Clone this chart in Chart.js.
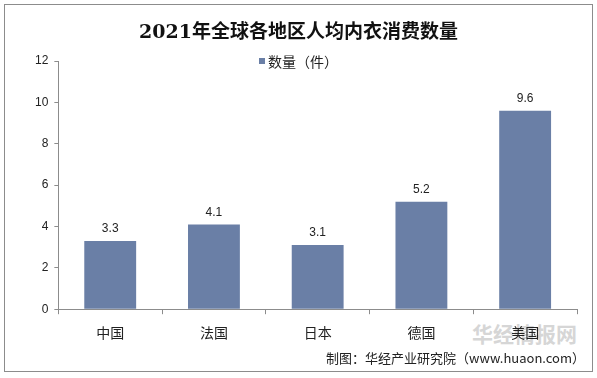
<!DOCTYPE html>
<html>
<head>
<meta charset="utf-8">
<script src="https://cdn.jsdelivr.net/npm/chart.js@4/dist/chart.umd.min.js"></script>
<style>
  body { margin: 0; background: #fff; }
  #wrap { position: relative; width: 597px; height: 378px; }
  #chart { position: absolute; left: 0; top: 0; }
  #frame { position: absolute; left: 4px; top: 4px; width: 587px; height: 366px; border: 1px solid #8c8c8c; pointer-events: none; }
  #title { position: absolute; left: 0; top: 16px; width: 597px; text-align: center;
    font: bold 19px "DejaVu Serif", "Noto Sans CJK SC", serif; color: #111; }
  #legend { position: absolute; left: 0; top: 51px; width: 597px; text-align: center;
    font: 14px "Noto Sans CJK SC", sans-serif; color: #222; }
  #legend i { display: inline-block; width: 6px; height: 6px; margin-right: 3px; vertical-align: 3px; }
  #mark { position: absolute; left: 472px; top: 318px; white-space: nowrap; font: bold 21px "Noto Sans CJK SC", sans-serif; color: #d6d6d6; }
  #source { position: absolute; right: 12px; top: 348px; white-space: nowrap; font: 13px "Noto Sans CJK SC", "Liberation Sans", sans-serif; color: #222; }
</style>
</head>
<body>
<div id="wrap">
  <div id="mark">华经情报网</div>
  <canvas id="chart" width="597" height="378"></canvas>
  <div id="title">2021年全球各地区人均内衣消费数量</div>
  <div id="legend"></div>
  <div id="source">制图：华经产业研究院（www.huaon.com）</div>
  <div id="frame"></div>
</div>
<script>
//categories and values
const regions = ["中国", "法国", "日本", "德国", "美国"];
const amounts = [3.3, 4.1, 3.1, 5.2, 9.6];
const seriesName = "数量（件）";
const barColor = "#6a7fa6";

//draw the value above each bar
const valueLabels = {
  id: "valueLabels",
  afterDatasetsDraw(chart) {
    const ctx = chart.ctx;
    const meta = chart.getDatasetMeta(0);
    ctx.save();
    ctx.font = "12px 'Liberation Sans', Arial, sans-serif";
    ctx.fillStyle = "#222";
    ctx.textAlign = "center";
    ctx.textBaseline = "middle";
    meta.data.forEach((bar, i) => {
      ctx.fillText(amounts[i].toFixed(1), bar.x, bar.y - 12);
    });
    ctx.restore();
  },
};

const myChart = new Chart(document.getElementById("chart"), {
  type: "bar",
  plugins: [valueLabels],
  data: {
    labels: regions,
    datasets: [
      {
        label: seriesName,
        data: amounts,
        backgroundColor: barColor,
        barPercentage: 0.5,
        categoryPercentage: 1,
      },
    ],
  },
  options: {
    responsive: false,
    animation: false,
    layout: { padding: { top: 61, left: 29, right: 20, bottom: 27 } },
    plugins: {
      tooltip: { enabled: false },
      legend: { display: false },
    },
    scales: {
      x: {
        grid: { drawOnChartArea: false, tickLength: 5, color: "#8c8c8c" },
        border: { color: "#8c8c8c" },
        ticks: { padding: 10, color: "#222", font: { size: 14, family: "'Noto Sans CJK SC', sans-serif" } },
      },
      y: {
        min: 0,
        max: 12,
        grid: { drawOnChartArea: false, tickLength: 4, color: "#8c8c8c" },
        border: { color: "#8c8c8c" },
        ticks: { stepSize: 2, padding: 6, color: "#222", font: { size: 12, family: "'Liberation Sans', Arial, sans-serif" } },
      },
    },
  },
});

//legend built from the chart's dataset
const ds = myChart.data.datasets[0];
document.getElementById("legend").innerHTML =
  `<i style="background:${ds.backgroundColor}"></i>${ds.label}`;
</script>
</body>
</html>
